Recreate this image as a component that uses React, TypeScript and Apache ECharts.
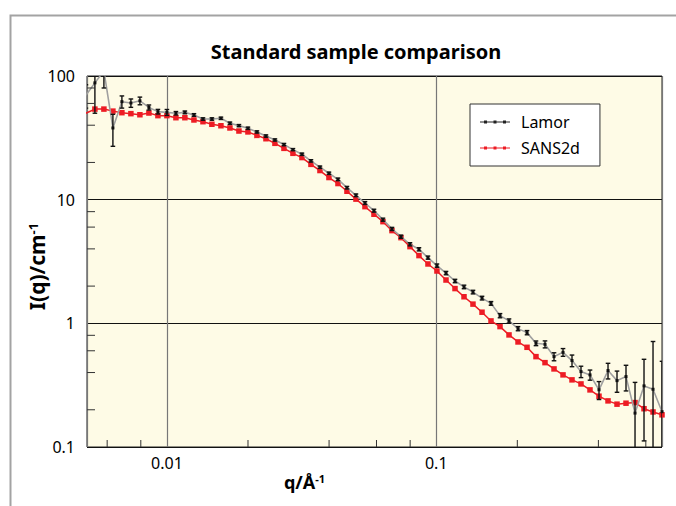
import React, { useEffect, useRef } from 'react';
import * as echarts from 'echarts';

// q values (Å^-1), logarithmically binned
const qValues = [
  0.005003, 0.005403, 0.005835, 0.006302, 0.006806, 0.00735, 0.007938, 0.008573, 0.009259,
  0.01, 0.0108, 0.01166, 0.0126, 0.01361, 0.01469, 0.01587, 0.01714, 0.01851, 0.01999,
  0.02159, 0.02332, 0.02518, 0.0272, 0.02937, 0.03172, 0.03426, 0.037, 0.03996, 0.04316,
  0.04661, 0.05034, 0.05437, 0.05872, 0.06341, 0.06849, 0.07396, 0.07988, 0.08627, 0.09317,
  0.1006, 0.1087, 0.1174, 0.1268, 0.1369, 0.1479, 0.1597, 0.1725, 0.1863, 0.2012,
  0.2173, 0.2346, 0.2534, 0.2737, 0.2956, 0.3192, 0.3447, 0.3723, 0.4021, 0.4343,
  0.469, 0.5065, 0.5471, 0.5908, 0.6381, 0.6891,
];

const lamorI = [
  70, 88, 110, 38, 62, 60.5, 63, 55.7, 51.5,
  50.8, 50, 50.8, 48.4, 44.9, 44.9, 45.5, 41.5, 39.7, 37.8,
  35.3, 32.7, 30.4, 27.9, 25.4, 23.3, 20.6, 18.3, 16.35, 14.6,
  12.5, 10.85, 9.4, 8.15, 6.89, 5.8, 5.02, 4.36, 3.97, 3.4,
  2.93, 2.55, 2.2, 1.97, 1.79, 1.6, 1.45, 1.154, 1.046, 0.906,
  0.841, 0.69, 0.677, 0.538, 0.583, 0.5, 0.407, 0.383, 0.29, 0.415,
  0.344, 0.371, 0.188, 0.312, 0.293, 0.193,
];

const lamorErr = [
  15, 38, 30, 11, 7, 4.7, 4.5, 2.6, 2.2,
  2.8, 1.6, 1.3, 1.2, 1.0, 1.0, 1.0, 0.9, 0.8, 0.8,
  0.7, 0.7, 0.6, 0.6, 0.5, 0.5, 0.45, 0.4, 0.35, 0.35,
  0.3, 0.27, 0.25, 0.22, 0.2, 0.17, 0.15, 0.13, 0.12, 0.1,
  0.09, 0.08, 0.07, 0.065, 0.06, 0.055, 0.05, 0.045, 0.04, 0.035,
  0.033, 0.03, 0.044, 0.04, 0.042, 0.054, 0.043, 0.036, 0.048, 0.06,
  0.067, 0.087, 0.145, 0.2, 0.42, 0.3,
];

const sans2dI = [
  50, 54, 54, 52, 50.5, 49.6, 48.6, 50.2, 47.8,
  47.8, 46, 46, 44.1, 42.7, 40.7, 39.6, 38, 35.9, 35.3,
  33.1, 31.1, 28.55, 26.0, 23.7, 21.9, 19.3, 17.2, 15.1, 13.5,
  11.7, 10.1, 8.78, 7.62, 6.64, 5.62, 4.93, 4.17, 3.53, 3.02,
  2.65, 2.24, 1.91, 1.64, 1.43, 1.23, 1.046, 0.941, 0.806, 0.707,
  0.64, 0.538, 0.481, 0.428, 0.383, 0.349, 0.3236, 0.2896, 0.2575, 0.236,
  0.222, 0.226, 0.2286, 0.204, 0.192, 0.182,
];

const xMinorTicks = [0.006, 0.008, 0.02, 0.04, 0.06, 0.08, 0.2, 0.4, 0.6];
const yMinorTicks = [0.2, 0.4, 0.6, 0.8, 2, 4, 6, 8, 20, 40, 60, 80];

const X_MIN = 0.00505;
const X_MAX = 0.689;
const Y_MIN = 0.1;
const Y_MAX = 100;

const FONT = '"Noto Sans", "Open Sans", sans-serif';
const RED = '#ed1c24';
const LEGEND_ICON =
  'path://M0,1.1L30,1.1L30,1.9L0,1.9Z M4,0L7,0L7,3L4,3Z M13.5,0L16.5,0L16.5,3L13.5,3Z M23,0L26,0L26,3L23,3Z';

function decadeLabel(v: number): string {
  const l = Math.log10(v);
  if (Math.abs(l - Math.round(l)) > 1e-6) return '';
  return String(Number(v.toPrecision(6)));
}

export default function App() {
  const ref = useRef<HTMLDivElement>(null);

  useEffect(() => {
    if (!ref.current) return;
    const chart = echarts.init(ref.current, undefined, { renderer: 'svg' });

    const lamorData = qValues.map((q, i) => [q, lamorI[i]]);
    const sansData = qValues.map((q, i) => [q, sans2dI[i]]);
    const errData = qValues.map((q, i) => [
      q,
      Math.max(lamorI[i] - lamorErr[i], 0.01),
      lamorI[i] + lamorErr[i],
    ]);

    const option: any = {
      animation: false,
      backgroundColor: '#ffffff',
      title: {
        text: 'Standard sample comparison',
        left: 356,
        top: 41,
        textAlign: 'center',
        padding: 0,
        textStyle: { fontFamily: FONT, fontSize: 20, fontWeight: 'bold', color: '#000' },
      },
      graphic: [
        {
          type: 'rect',
          shape: { x: 10.5, y: 15.5, width: 720, height: 600 },
          style: { fill: 'none', stroke: '#a3a3a3', lineWidth: 2 },
          silent: true,
          z: 0,
        },
      ],
      legend: {
        left: 470,
        top: 104,
        orient: 'vertical',
        backgroundColor: '#ffffff',
        borderColor: '#333',
        borderWidth: 1,
        borderRadius: 0,
        padding: [9, 20, 9, 10],
        itemGap: 8,
        itemWidth: 30,
        itemHeight: 3,
        textStyle: { fontFamily: FONT, fontSize: 16, color: '#000', lineHeight: 18, padding: [0, 0, 0, 6] },
        data: [
          { name: 'Lamor', icon: LEGEND_ICON, itemStyle: { color: '#222' } },
          { name: 'SANS2d', icon: LEGEND_ICON, itemStyle: { color: RED } },
        ],
        selectedMode: false,
      },
      grid: {
        left: 87,
        top: 76,
        width: 575,
        height: 371,
        show: true,
        backgroundColor: '#fefbe6',
        borderColor: '#222',
        borderWidth: 1,
      },
      xAxis: {
        type: 'log',
        logBase: 10,
        min: X_MIN,
        max: X_MAX,
        name: '{b|q/Å}{s|-1}',
        nameLocation: 'middle',
        nameGap: 26,
        nameMoveOverlap: false,
        nameTextStyle: {
          padding: [0, 140, 0, 0],
          rich: {
            b: { fontFamily: FONT, fontSize: 18, fontWeight: 'bold', color: '#000' },
            s: { fontFamily: FONT, fontSize: 11, fontWeight: 'bold', color: '#000', verticalAlign: 'top' },
          },
        },
        axisLine: { show: false },
        axisTick: { show: false },
        axisLabel: {
          formatter: (v: number) => decadeLabel(v),
          fontFamily: FONT,
          fontSize: 16,
          color: '#000',
          margin: 8,
        },
        splitLine: { show: true, lineStyle: { color: '#777', width: 1.2 } },
      },
      yAxis: {
        type: 'log',
        logBase: 10,
        min: Y_MIN,
        max: Y_MAX,
        name: '{b|I(q)/cm}{s|-1}',
        nameLocation: 'middle',
        nameGap: 40,
        nameMoveOverlap: false,
        nameTextStyle: {
          padding: [0, 10, 0, 0],
          rich: {
            b: { fontFamily: FONT, fontSize: 21, fontWeight: 'bold', color: '#000' },
            s: { fontFamily: FONT, fontSize: 13, fontWeight: 'bold', color: '#000', verticalAlign: 'top' },
          },
        },
        axisLine: { show: false },
        axisTick: { show: false },
        axisLabel: {
          formatter: (v: number) => decadeLabel(v),
          fontFamily: FONT,
          fontSize: 16,
          color: '#000',
          margin: 12,
        },
        splitLine: { show: true, lineStyle: { color: '#111', width: 1 } },
      },
      series: [
        {
          name: 'SANS2d',
          type: 'line',
          data: sansData,
          symbol: 'rect',
          symbolSize: 5.5,
          itemStyle: { color: RED },
          lineStyle: { color: RED, width: 1.5 },
          clip: true,
          z: 3,
        },
        {
          name: 'Lamor',
          type: 'line',
          data: lamorData,
          symbol: 'rect',
          symbolSize: 3,
          itemStyle: { color: '#111' },
          lineStyle: { color: '#a0a0a0', width: 1.6 },
          clip: true,
          z: 4,
        },
        {
          name: 'LamorErr',
          type: 'custom',
          data: errData,
          encode: { x: 0, y: [1, 2] },
          clip: true,
          z: 5,
          silent: true,
          renderItem: (params: any, api: any) => {
            const x = api.value(0);
            const lo = api.value(1);
            const hi = api.value(2);
            const top = api.coord([x, hi]);
            const bot = api.coord([x, lo]);
            const cw = 2.3;
            const st = { stroke: '#111', lineWidth: 1.4 };
            return {
              type: 'group',
              children: [
                { type: 'line', shape: { x1: top[0], y1: top[1], x2: bot[0], y2: bot[1] }, style: st },
                { type: 'line', shape: { x1: top[0] - cw, y1: top[1], x2: top[0] + cw, y2: top[1] }, style: st },
                { type: 'line', shape: { x1: bot[0] - cw, y1: bot[1], x2: bot[0] + cw, y2: bot[1] }, style: st },
              ],
            };
          },
        },
        {
          name: 'xMinor',
          type: 'custom',
          data: xMinorTicks.map((v) => [v, Y_MIN]),
          encode: { x: 0, y: 1 },
          silent: true,
          z: 6,
          renderItem: (params: any, api: any) => {
            const p = api.coord([api.value(0), api.value(1)]);
            return {
              type: 'line',
              shape: { x1: p[0], y1: p[1], x2: p[0], y2: p[1] - 7 },
              style: { stroke: '#333', lineWidth: 1 },
            };
          },
        },
        {
          name: 'yMinor',
          type: 'custom',
          data: yMinorTicks.map((v) => [X_MIN, v]),
          encode: { x: 0, y: 1 },
          silent: true,
          z: 6,
          renderItem: (params: any, api: any) => {
            const p = api.coord([api.value(0), api.value(1)]);
            return {
              type: 'line',
              shape: { x1: p[0], y1: p[1], x2: p[0] + 8, y2: p[1] },
              style: { stroke: '#333', lineWidth: 1 },
            };
          },
        },
      ],
    };

    chart.setOption(option);
    return () => {
      chart.dispose();
    };
  }, []);

  return (
    <div
      ref={ref}
      style={{ position: 'absolute', left: 0, top: 0, width: 676, height: 506 }}
    />
  );
}
